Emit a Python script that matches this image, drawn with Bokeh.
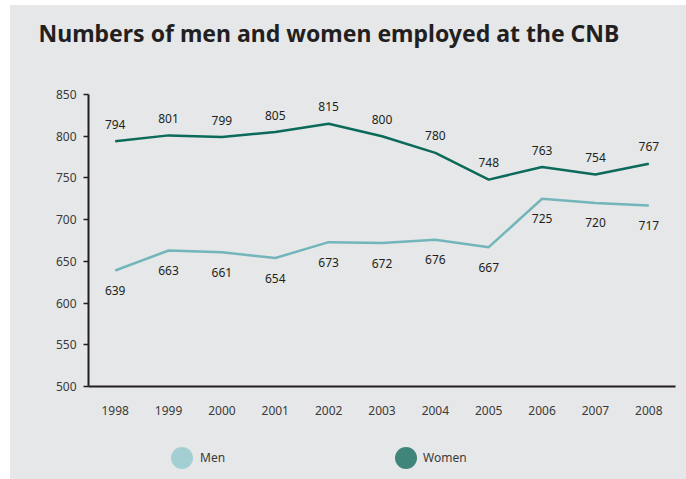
from bokeh.plotting import figure
from bokeh.layouts import column
from bokeh.models import (Range1d, FixedTicker, Legend, LegendItem, ColumnDataSource)
from bokeh.core.properties import value
from bokeh.embed import file_html
from bokeh.resources import INLINE

# ---- data ----
years = [1998, 1999, 2000, 2001, 2002, 2003, 2004, 2005, 2006, 2007, 2008]
men = [639, 663, 661, 654, 673, 672, 676, 667, 725, 720, 717]
women = [794, 801, 799, 805, 815, 800, 780, 748, 763, 754, 767]
y_ticks = [500, 550, 600, 650, 700, 750, 800, 850]
title_text = "Numbers of men and women employed at the CNB"
series_names = ["Men", "Women"]

BG = "#e6e7e8"
MEN_C = "#72b6bc"
WOMEN_C = "#0b6a5a"
TXT = "#231f20"
FONT = "Noto Sans"
W = 676


def strip(height):
    f = figure(width=W, height=height, output_backend="svg", toolbar_location=None,
               x_axis_location=None, y_axis_location=None,
               min_border_left=78, min_border_right=11,
               min_border_top=0, min_border_bottom=0)
    f.background_fill_color = None
    f.border_fill_color = BG
    f.outline_line_color = None
    f.grid.visible = False
    return f


# ---- title strip ----
t = strip(67)
t.title.text = title_text
t.title.align = "left"
t.title.offset = -50
t.title.text_font = FONT
t.title.text_font_size = "23px"
t.title.text_font_style = "bold"
t.title.text_color = TXT
t.title.standoff = 18

# ---- main chart ----
p = figure(width=W, height=353, output_backend="svg", toolbar_location=None,
           x_range=Range1d(1997.5, 2008.5), y_range=Range1d(500, 850),
           min_border_left=78, min_border_right=11, min_border_top=22,
           min_border_bottom=39)
p.background_fill_color = BG
p.border_fill_color = BG
p.outline_line_color = None
p.grid.visible = False

for ax in (p.xaxis[0], p.yaxis[0]):
    ax.axis_line_color = TXT
    ax.axis_line_width = 2
    ax.major_tick_line_color = TXT
    ax.major_tick_line_width = 1.5
    ax.minor_tick_line_color = None
    ax.major_label_text_font = FONT
    ax.major_label_text_font_size = "12px"
    ax.major_label_text_color = "#3a3a3a"

p.xaxis.ticker = FixedTicker(ticks=years)
p.xaxis.major_tick_out = 0
p.xaxis.major_tick_in = 0
p.xaxis.major_label_standoff = 19
p.yaxis.ticker = FixedTicker(ticks=y_ticks)
p.yaxis.major_tick_out = 5
p.yaxis.major_tick_in = 0
p.yaxis.major_label_standoff = 7

src = ColumnDataSource(dict(x=years, men=men, women=women,
                            men_l=[str(v) for v in men],
                            women_l=[str(v) for v in women]))

p.line("x", "men", source=src, line_color=MEN_C, line_width=2.5)
p.line("x", "women", source=src, line_color=WOMEN_C, line_width=2.5)

p.text("x", "women", text="women_l", source=src, text_font=value(FONT),
       text_font_size="12px", text_color=TXT, text_align="center",
       text_baseline="middle", y_offset=-17)
p.text("x", "men", text="men_l", source=src, text_font=value(FONT),
       text_font_size="12px", text_color=TXT, text_align="center",
       text_baseline="middle", y_offset=20)

# ---- legend strip ----
q = strip(54)
r_men = q.scatter(x=years[:1], y=men[:1], marker="circle",
                  fill_color="#a3cfd3", line_color=None, visible=False)
r_women = q.scatter(x=years[:1], y=women[:1], marker="circle",
                    fill_color="#3f8579", line_color=None, visible=False)
r_blank = q.scatter(x=years[:1], y=men[:1], marker="circle",
                    fill_color=None, line_color=None, visible=False)


def legend_common(**kw):
    base = dict(padding=0, margin=0, border_line_color=None,
                background_fill_alpha=0, label_text_font=FONT,
                label_text_font_size="12px", label_text_color="#3a3a3a")
    base.update(kw)
    return base


# circle icons
q.add_layout(Legend(items=[LegendItem(label=" ", renderers=[r_men])],
                    location=(66, -6), glyph_width=55, glyph_height=55,
                    label_standoff=0, **legend_common()))
q.add_layout(Legend(items=[LegendItem(label=" ", renderers=[r_women])],
                    location=(290, -6), glyph_width=55, glyph_height=55,
                    label_standoff=0, **legend_common()))
# series names
q.add_layout(Legend(items=[LegendItem(label=series_names[0], renderers=[r_blank])],
                    location=(111, 12), glyph_width=1, glyph_height=20,
                    label_standoff=0, **legend_common()))
q.add_layout(Legend(items=[LegendItem(label=series_names[1], renderers=[r_blank])],
                    location=(334, 12), glyph_width=1, glyph_height=20,
                    label_standoff=0, **legend_common()))

layout = column(t, p, q, spacing=0,
                styles={"background-color": BG, "margin-left": "10px",
                        "margin-top": "5px"})
open("out.html", "w").write(file_html(layout, INLINE))
